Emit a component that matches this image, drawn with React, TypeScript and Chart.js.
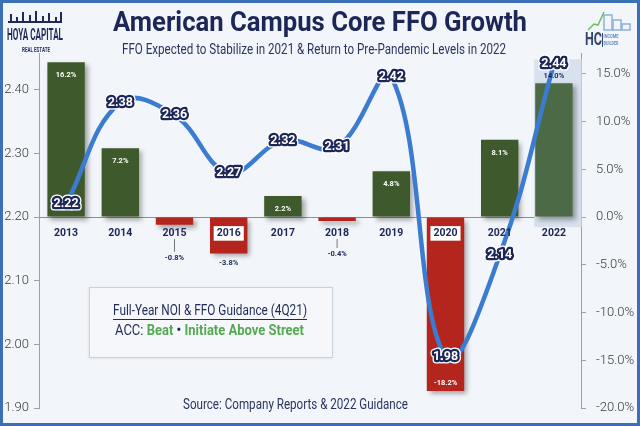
import React, { useEffect, useRef } from 'react';
import { Chart, registerables } from 'chart.js';

Chart.register(...registerables);

// ---- data ----
const years = ['2013', '2014', '2015', '2016', '2017', '2018', '2019', '2020', '2021', '2022'];
const ffoPerShare = [2.22, 2.38, 2.36, 2.27, 2.32, 2.31, 2.42, 1.98, 2.14, 2.44];
const ffoGrowthPct = [16.2, 7.2, -0.8, -3.8, 2.2, -0.4, 4.8, -18.2, 8.1, 14.0];
const ffoAxisRange = [1.9, 2.5];
const growthAxisRange = [-20, 20];
const highlightYears = ['2016', '2020'];
const guidanceYear = '2022';

const TITLE = 'American Campus Core FFO Growth';
const SUBTITLE = 'FFO Expected to Stabilize in 2021 & Return to Pre-Pandemic Levels in 2022';
const SOURCE = 'Source: Company Reports & 2022 Guidance';
const BOX_TITLE = 'Full-Year NOI & FFO Guidance (4Q21)';
const BOX_LINE = [
  { t: 'ACC: ', bold: false, c: '#1f2a5a' },
  { t: 'Beat', bold: true, c: '#55a955' },
  { t: ' \u2022 ', bold: true, c: '#1f2a5a' },
  { t: 'Initiate Above Street', bold: true, c: '#55a955' },
];

const NAVY = '#1c2657';
const BG = '#f2f5f9';

function fitText(ctx: CanvasRenderingContext2D, text: string, cx: number, y: number, w: number, font: string, color: string) {
  ctx.save();
  ctx.font = font;
  const m = ctx.measureText(text).width;
  const s = w / m;
  ctx.translate(cx, y);
  ctx.scale(s, 1);
  ctx.fillStyle = color;
  ctx.textAlign = 'center';
  ctx.textBaseline = 'middle';
  ctx.fillText(text, 0, 0);
  ctx.restore();
  return s;
}

const decor = {
  id: 'decor',
  beforeDraw(chart: any) {
    const { ctx, width, height } = chart;
    ctx.save();
    ctx.fillStyle = BG;
    ctx.fillRect(0, 0, width, height);
    ctx.restore();
  },
  beforeDatasetsDraw(chart: any) {
    const { ctx } = chart;
    const meta = chart.getDatasetMeta(0);
    const idx = years.indexOf(guidanceYear);
    const el = meta.data[idx];
    if (!el) return;
    const zero = chart.scales.y1.getPixelForValue(0);
    ctx.save();
    ctx.fillStyle = '#d8e2ee';
    const l = el.x - el.width / 2 - 1;
    const r = el.x + el.width / 2 + 9;
    ctx.fillRect(l, el.y - 24, r - l, zero + 10 - (el.y - 24));
    ctx.restore();
  },
  beforeDatasetDraw(chart: any, args: any) {
    if (args.index === 0) {
      const ctx = chart.ctx;
      ctx.save();
      ctx.shadowColor = 'rgba(0,0,0,0.35)';
      ctx.shadowBlur = 5;
      ctx.shadowOffsetX = 3;
      ctx.shadowOffsetY = 3;
    }
  },
  afterDatasetDraw(chart: any, args: any) {
    if (args.index === 0) chart.ctx.restore();
  },
  afterDatasetsDraw(chart: any) {
    const { ctx } = chart;
    const zero = chart.scales.y1.getPixelForValue(0);
    // bar labels
    const bars = chart.getDatasetMeta(0).data;
    ctx.save();
    ctx.font = 'bold 7.5px Roboto';
    ctx.textAlign = 'center';
    ctx.textBaseline = 'middle';
    ffoGrowthPct.forEach((v, i) => {
      const el = bars[i];
      const txt = v.toFixed(1) + '%';
      if (i === years.indexOf(guidanceYear)) {
        ctx.fillStyle = NAVY;
        ctx.fillText(txt, el.x, el.y - 7);
      } else if (v >= 0) {
        ctx.fillStyle = '#ffffff';
        ctx.fillText(txt, el.x, el.y + 13);
      } else if (v < -10) {
        ctx.fillStyle = '#ffffff';
        ctx.fillText(txt, el.x, el.y - 8);
      } else if (v > -2) {
        const ly = el.y + 33;
        ctx.strokeStyle = '#777';
        ctx.lineWidth = 1;
        ctx.beginPath();
        ctx.moveTo(el.x, zero + 22);
        ctx.lineTo(el.x, ly - 6);
        ctx.stroke();
        ctx.fillStyle = NAVY;
        ctx.fillText(txt, el.x, ly);
      } else {
        ctx.fillStyle = NAVY;
        ctx.fillText(txt, el.x, el.y + 10);
      }
    });
    // line labels
    const pts = chart.getDatasetMeta(1).data;
    ctx.font = 'bold 12.5px Roboto';
    ctx.lineJoin = 'round';
    ffoPerShare.forEach((v, i) => {
      const p = pts[i];
      const txt = v.toFixed(2);
      ctx.strokeStyle = '#ffffff';
      ctx.lineWidth = 7;
      ctx.strokeText(txt, p.x, p.y);
      ctx.strokeStyle = NAVY;
      ctx.lineWidth = 4.5;
      ctx.strokeText(txt, p.x, p.y);
      ctx.fillStyle = '#ffffff';
      ctx.fillText(txt, p.x, p.y);
    });
    ctx.restore();
  },
  afterDraw(chart: any) {
    const { ctx, width, height } = chart;
    ctx.save();
    // cover axis tops behind title & logos
    ctx.fillStyle = BG;
    ctx.fillRect(3, 3, 70, 50);
    ctx.fillRect(572, 3, 65, 50);

    // title & subtitle
    fitText(ctx, TITLE, 320, 24, 414, 'bold 27px Roboto', NAVY);
    fitText(ctx, SUBTITLE, 314, 50, 384, '15px Roboto', '#2a3560');

    // left logo
    ctx.fillStyle = '#1f2a5a';
    ctx.fillRect(8, 21, 54, 2);
    [[10, 14], [16, 17], [22, 12], [29, 15], [35, 11], [42, 16], [48, 13], [55, 17], [60, 12]].forEach(([x, t]) => {
      ctx.fillRect(x, t, 2, 22 - t);
    });
    fitText(ctx, 'HOYA CAPITAL', 35, 35.5, 56, 'bold 17px Roboto', '#1f2a5a');
    fitText(ctx, 'REAL ESTATE', 36, 49.5, 28, 'bold 8px Roboto', '#1f2a5a');

    // right logo
    ctx.strokeStyle = '#8fb0d8';
    ctx.lineWidth = 1.5;
    ctx.strokeRect(604, 15, 8, 15);
    ctx.strokeRect(613, 20, 8, 10);
    ctx.strokeRect(622, 24, 8, 6);
    ctx.strokeStyle = '#6bbf59';
    ctx.beginPath();
    ctx.moveTo(588, 30);
    ctx.lineTo(594, 24);
    ctx.lineTo(598, 25);
    ctx.lineTo(604, 12);
    ctx.stroke();
    fitText(ctx, 'HC', 593.5, 40, 17, 'bold 18px Roboto', '#34476e');
    ctx.fillStyle = '#34476e';
    ctx.fillRect(602, 33, 1, 14);
    fitText(ctx, 'INCOME', 611, 36.5, 15, 'bold 6px Roboto', '#6a8fc0');
    fitText(ctx, 'BUILDER', 611, 43.5, 15, 'bold 6px Roboto', '#6a8fc0');

    // guidance box
    ctx.save();
    ctx.shadowColor = 'rgba(0,0,0,0.12)';
    ctx.shadowBlur = 3;
    ctx.shadowOffsetY = 1;
    ctx.fillStyle = '#f5f7fa';
    ctx.fillRect(89, 287, 243, 70);
    ctx.restore();
    ctx.strokeStyle = '#cbd2db';
    ctx.lineWidth = 1;
    ctx.strokeRect(89.5, 287.5, 243, 70);
    fitText(ctx, BOX_TITLE, 210, 311, 194, '14px Roboto', '#1f2a5a');
    ctx.fillStyle = '#1f2a5a';
    ctx.fillRect(113, 319, 194, 1);

    // second line, fit to width
    let total = 0;
    BOX_LINE.forEach((p) => {
      ctx.font = (p.bold ? 'bold ' : '') + '14px Roboto';
      total += ctx.measureText(p.t).width;
    });
    const target = 189;
    const s = target / total;
    ctx.save();
    ctx.translate(115, 331);
    ctx.scale(s, 1);
    ctx.textBaseline = 'middle';
    ctx.textAlign = 'left';
    let x = 0;
    BOX_LINE.forEach((p) => {
      ctx.font = (p.bold ? 'bold ' : '') + '14px Roboto';
      ctx.fillStyle = p.c;
      ctx.fillText(p.t, x, 0);
      x += ctx.measureText(p.t).width;
    });
    ctx.restore();

    // source
    fitText(ctx, SOURCE, 295.5, 405, 225, '14px Roboto', '#2a3560');

    // frame
    ctx.strokeStyle = '#3b6fb6';
    ctx.lineWidth = 3;
    ctx.strokeRect(1.5, 1.5, width - 3, height - 3);
    ctx.restore();
  },
};

export default function App() {
  const ref = useRef<HTMLCanvasElement | null>(null);

  useEffect(() => {
    if (!ref.current) return;
    const lastIdx = years.indexOf(guidanceYear);
    const chart = new Chart(ref.current, {
      data: {
        labels: years,
        datasets: [
          {
            type: 'bar',
            label: 'FFO Growth',
            data: ffoGrowthPct,
            yAxisID: 'y1',
            order: 1,
            backgroundColor: ffoGrowthPct.map((v, i) => (i === lastIdx ? '#4d6a47' : v >= 0 ? '#3e5a2c' : '#b3251d')),
            barPercentage: 0.69,
            categoryPercentage: 1,
          },
          {
            type: 'line',
            label: 'Core FFO / Share',
            data: ffoPerShare,
            yAxisID: 'y',
            order: 0,
            borderColor: '#3b7bd0',
            borderWidth: 4.5,
            tension: 0.4,
            pointRadius: 0,
            fill: false,
          },
        ],
      } as any,
      options: {
        responsive: false,
        animation: false,
        layout: { padding: { top: 26, bottom: 16, left: 0, right: 0 } },
        plugins: { legend: { display: false }, tooltip: { enabled: false }, title: { display: false } },
        scales: {
          x: {
            position: { y: 2.2 } as any,
            offset: true,
            grid: { display: true, drawOnChartArea: false, drawTicks: false },
            border: { display: true, color: '#8a8f96', width: 1 },
            ticks: {
              z: 1,
              padding: 10,
              color: NAVY,
              font: { family: 'Roboto', size: 10.5, weight: 'bold' },
              showLabelBackdrop: true,
              backdropPadding: { x: 3, y: 1 },
              backdropColor: (c: any) =>
                highlightYears.includes(years[c.index]) ? '#ffffff' : 'rgba(0,0,0,0)',
            } as any,
          },
          y: {
            position: 'left',
            min: ffoAxisRange[0],
            max: ffoAxisRange[1],
            afterFit: (s: any) => {
              s.width = 39;
            },
            grid: { drawOnChartArea: false, tickLength: 5, color: '#9aa0a8' },
            border: { display: true, color: '#9aa0a8' },
            ticks: {
              stepSize: 0.1,
              padding: 5,
              color: '#3a3a3a',
              font: { family: 'Roboto', size: 13, weight: 300 },
              callback: (v: any) => (Number(v) >= ffoAxisRange[1] - 1e-6 ? '' : Number(v).toFixed(2)),
            },
          },
          y1: {
            position: 'right',
            min: growthAxisRange[0],
            max: growthAxisRange[1],
            afterFit: (s: any) => {
              s.width = 59;
            },
            grid: { drawOnChartArea: false, tickLength: 5, color: '#9aa0a8' },
            border: { display: true, color: '#9aa0a8' },
            ticks: {
              stepSize: 5,
              padding: 10,
              color: '#3a3a3a',
              font: { family: 'Roboto', size: 13, weight: 300 },
              callback: (v: any) => (Number(v) >= growthAxisRange[1] - 1e-6 ? '' : Number(v).toFixed(1) + '%'),
            },
          },
        },
      } as any,
      plugins: [decor],
    });
    return () => chart.destroy();
  }, []);

  return (
    <div style={{ position: 'fixed', left: 0, top: 0, width: 640, height: 426 }}>
      <canvas ref={ref} width={640} height={426} style={{ display: 'block', width: 640, height: 426 }} />
    </div>
  );
}
